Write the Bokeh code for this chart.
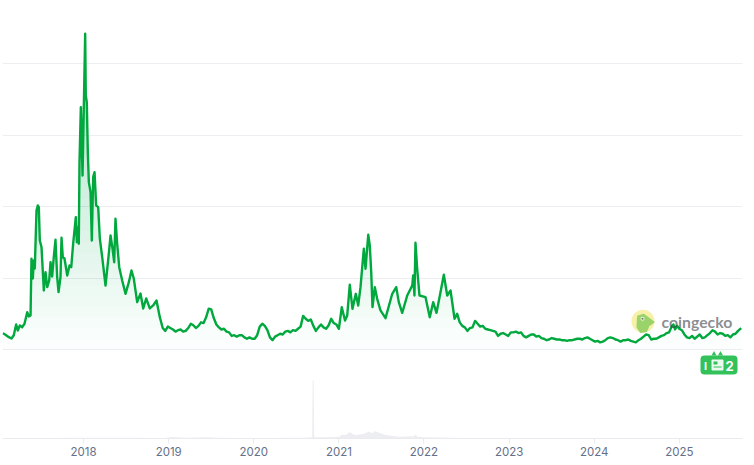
import numpy as np
from bokeh.plotting import figure
from bokeh.models import FixedTicker, Label, BoxAnnotation, Range1d
from bokeh.embed import file_html
from bokeh.resources import INLINE

# ---- data ----
tick_years = [2018, 2019, 2020, 2021, 2022, 2023, 2024, 2025]
tick_labels = ["2018", "2019", "2020", "2021", "2022", "2023", "2024", "2025"]
grid_levels = [0, 1, 2, 3, 4]

years = [2017.051,2017.083,2017.122,2017.153,2017.180,2017.208,2017.227,2017.251,2017.279,2017.306,
2017.338,2017.357,2017.377,2017.388,2017.404,2017.415,2017.427,2017.447,2017.462,2017.474,
2017.486,2017.506,2017.533,2017.553,2017.573,2017.596,2017.612,2017.631,2017.650,2017.670,
2017.690,2017.706,2017.729,2017.741,2017.756,2017.776,2017.808,2017.835,2017.855,2017.878,
2017.909,2017.921,2017.937,2017.944,2017.952,2017.968,2017.988,2017.996,2018.019,2018.026,
2018.038,2018.050,2018.062,2018.082,2018.097,2018.113,2018.129,2018.148,2018.172,2018.191,
2018.219,2018.258,2018.297,2018.317,2018.340,2018.360,2018.375,2018.395,2018.419,2018.454,
2018.493,2018.532,2018.563,2018.590,2018.630,2018.669,2018.701,2018.736,2018.778,2018.818,
2018.857,2018.896,
2018.93,2018.96,2018.99,2019.02,2019.05,2019.08,2019.11,2019.14,2019.17,2019.20,2019.23,2019.26,2019.29,2019.32,
2019.35,2019.38,2019.41,2019.44,2019.47,2019.50,2019.53,2019.56,2019.59,2019.62,2019.65,2019.68,2019.71,2019.74,
2019.77,2019.80,2019.83,2019.86,2019.89,2019.92,2019.95,2019.98,2020.01,2020.04,2020.07,2020.10,2020.13,2020.16,
2020.19,2020.22,2020.25,2020.28,2020.31,2020.34,2020.37,2020.40,2020.43,2020.46,2020.49,2020.52,2020.55,2020.58,
2020.61,2020.64,2020.67,2020.70,2020.73,2020.76,2020.79,2020.82,2020.85,2020.88,2020.91,2020.94,2020.97,2021.000,
2021.034,2021.072,2021.098,
2021.128,2021.160,2021.199,2021.227,2021.254,2021.293,2021.313,2021.345,2021.363,2021.380,
2021.395,2021.422,2021.450,2021.489,2021.548,2021.627,2021.674,2021.704,2021.744,2021.803,
2021.862,2021.873,2021.888,2021.900,2021.920,2021.947,2022.018,2022.068,2022.108,2022.147,
2022.194,2022.233,2022.273,2022.312,2022.359,2022.390,
2022.42,2022.45,2022.48,2022.51,2022.54,2022.57,2022.60,2022.63,2022.66,2022.69,2022.72,2022.75,2022.78,2022.81,
2022.84,2022.87,2022.90,2022.93,2022.96,2022.99,2023.02,2023.05,2023.08,2023.11,2023.14,2023.17,2023.20,2023.23,
2023.26,2023.29,2023.32,2023.35,2023.38,2023.41,2023.44,2023.47,2023.50,2023.53,2023.56,2023.59,2023.62,2023.65,
2023.68,2023.71,2023.74,2023.77,2023.80,2023.83,2023.86,2023.89,2023.92,2023.95,2023.98,2024.01,2024.04,2024.07,
2024.10,2024.13,2024.16,2024.19,2024.22,2024.25,2024.28,2024.31,2024.34,2024.37,2024.40,2024.43,2024.46,2024.49,
2024.52,2024.55,2024.58,2024.61,2024.64,2024.67,2024.70,2024.73,2024.76,2024.79,2024.82,2024.85,2024.88,2024.91,
2024.93,2024.95,2024.975,2025.00,2025.03,2025.06,2025.09,2025.12,2025.15,2025.18,2025.21,2025.24,2025.27,2025.30,
2025.33,2025.36,2025.39,2025.42,2025.45,2025.48,2025.51,2025.54,2025.57,2025.60,2025.63,2025.66,2025.69,2025.727]

prices = [.228,.206,.172,.154,.200,.350,.266,.336,.312,.360,
.522,.462,.476,1.269,.993,1.245,1.133,1.945,2.015,1.991,
1.525,1.431,.825,1.081,.872,.965,1.221,1.021,1.291,1.535,
1.011,.802,1.011,1.563,1.291,1.273,1.035,1.175,1.151,1.483,
1.851,1.501,1.711,1.479,2.602,3.390,2.434,2.952,4.417,3.553,
3.460,2.760,2.341,2.201,1.525,2.410,2.480,2.015,1.991,1.553,
1.291,.895,1.343,1.595,1.413,1.221,1.829,1.479,1.151,.965,
.779,.942,1.105,.993,.662,.783,.574,.713,.574,.616,
.685,.452,
.30,.26,.32,.30,.28,.25,.27,.28,.25,.26,.30,.36,.34,.30,
.33,.38,.37,.45,.57,.56,.44,.35,.31,.28,.29,.25,.24,.19,
.20,.18,.20,.20,.17,.15,.17,.15,.15,.20,.32,.36,.33,.27,
.17,.13,.18,.20,.22,.21,.25,.26,.24,.27,.26,.29,.32,.47,
.43,.40,.42,.33,.26,.31,.35,.31,.29,.34,.43,.37,.35,.29,
.592,.406,.476,
.905,.569,.779,.616,.872,1.409,1.129,1.605,1.455,1.081,
.592,.872,.709,.546,.438,.779,.872,.662,.513,.755,
.895,1.035,.755,1.493,1.129,.755,.732,.452,.662,.513,
.802,1.045,.755,.825,.430,.499,
.38,.33,.31,.26,.30,.31,.40,.36,.32,.33,.29,.28,.27,.26,
.25,.19,.22,.23,.21,.19,.24,.24,.25,.23,.24,.19,.17,.19,
.21,.21,.18,.19,.16,.15,.13,.14,.16,.15,.14,.14,.13,.13,
.12,.13,.13,.14,.15,.15,.14,.16,.17,.15,.13,.11,.12,.10,
.11,.13,.16,.17,.16,.14,.13,.11,.13,.13,.14,.12,.11,.10,
.13,.15,.18,.21,.20,.14,.15,.15,.17,.19,.20,.23,.24,.32,
.35,.28,.33,.29,.27,.21,.17,.16,.19,.15,.18,.21,.16,.17,
.20,.23,.27,.25,.21,.23,.22,.19,.20,.17,.21,.22,.26,.30]

volume_years = [2017.05,2017.5,2017.95,2018.05,2018.5,2018.95,2019.03,2019.2,2019.45,2019.55,2019.9,2020.2,
2020.45,2020.6,2020.686,2020.692,2020.704,2020.710,2020.8,2021.0,2021.04,2021.08,2021.13,2021.17,2021.2,2021.3,2021.345,
2021.39,2021.43,2021.47,2021.55,2021.7,2021.88,2021.9,2021.92,2022.0,2022.5,2023.5,2024.5,2025.0,2025.73]
volumes = [.005,.008,.012,.015,.012,.01,.025,.012,.02,.015,.01,.008,.015,.015,.02,1.0,1.0,.02,.02,.03,.07,.06,.11,.07,.06,.08,.12,
.09,.13,.1,.06,.03,.04,.07,.03,.02,.01,.006,.006,.01,.006]

# ---- styling helpers: page pixels to chart values, used only for the overlay decoration ----
def X(px):
    return 2017.024 + 0.01175 * px

def Y(py):
    return (349 - py) / 71.5

LINE = "#00a83e"
x_arr, y_arr = np.array(years), np.array(prices)

p = figure(width=754, height=465, output_backend="svg", toolbar_location=None,
           x_range=Range1d(X(2), X(742)), y_range=Range1d(Y(438), Y(0)),
           min_border_left=2, min_border_right=12, min_border_top=0, min_border_bottom=27,
           outline_line_color=None, background_fill_color="white",
           styles={"position": "absolute", "left": "0px", "top": "0px"})
p.extra_y_ranges = {"vol": Range1d(0, 438 / 58)}

p.yaxis.visible = False
p.xgrid.visible = False
p.ygrid.ticker = FixedTicker(ticks=grid_levels)
p.ygrid.grid_line_color = "#eceef1"
p.ygrid.grid_line_width = 1

ax = p.xaxis[0]
ax.ticker = FixedTicker(ticks=tick_years)
ax.major_label_overrides = dict(zip(tick_years, tick_labels))
ax.axis_line_color = "#e9ebef"
ax.major_tick_line_color = "#e9ebef"
ax.major_tick_in = 0
ax.major_tick_out = 5
ax.minor_tick_line_color = None
ax.major_label_standoff = 3
ax.major_label_text_font = "Inter"
ax.major_label_text_font_size = "11.5px"
ax.major_label_text_color = "#64708a"

# volume panel
p.varea(x=volume_years, y1=0, y2=volumes, y_range_name="vol", fill_color="#eceef2", fill_alpha=1)

# gradient below the line: stacked translucent layers, denser the higher the price
for level in np.arange(0, 4.5, 0.15):
    p.varea(x=x_arr, y1=np.minimum(y_arr, level), y2=y_arr, fill_color=LINE, fill_alpha=0.0115)

p.line(x_arr, y_arr, line_color=LINE, line_width=2.4, line_join="round")

# watermark
p.scatter([X(642.5)], [Y(320.7)], size=23, fill_color="#f7f0a8", line_color=None)
p.patch([X(v) for v in (637.3, 643.3, 653.3, 648.3, 646, 640, 636.7)],
        [Y(v) for v in (315.7, 314, 321.7, 325, 330.7, 331.7, 326.7)],
        fill_color="#9bd36b", line_color="#9bd36b", line_join="round", line_width=1.5)
p.scatter([X(642)], [Y(318.3)], size=4, fill_color="#eef2ea", line_color=None)
p.scatter([X(642)], [Y(318.3)], size=2, fill_color="#6d7268", line_color=None)
p.add_layout(Label(x=X(661), y=Y(320.5), text="coingecko", text_font="Lato", text_font_style="bold",
                   text_font_size="15.8px", text_color="#3b4048", text_alpha=0.6, text_baseline="middle"))

# event badge
BADGE = "#33c15a"
p.add_layout(BoxAnnotation(left=X(700), right=X(737), top=Y(355), bottom=Y(374), fill_color=BADGE,
                           fill_alpha=1, line_color=None, border_radius=4))
p.scatter([X(713.5), X(720)], [Y(353.5), Y(353.5)], marker="triangle", size=5, fill_color=BADGE, line_color=None)
p.add_layout(Label(x=X(705), y=Y(365), text="I", text_font="Inter", text_font_style="bold", text_font_size="11px",
                   text_color="white", text_align="center", text_baseline="middle"))
p.add_layout(Label(x=X(729), y=Y(365), text="2", text_font="Inter", text_font_style="bold", text_font_size="13px",
                   text_color="white", text_align="center", text_baseline="middle"))
p.add_layout(BoxAnnotation(left=X(711), right=X(723), top=Y(359), bottom=Y(370), fill_color="#eafaee",
                           fill_alpha=1, line_color=None, border_radius=1))
p.add_layout(BoxAnnotation(left=X(713), right=X(717), top=Y(361), bottom=Y(364), fill_color=BADGE,
                           fill_alpha=1, line_color=None))
p.add_layout(BoxAnnotation(left=X(713), right=X(721), top=Y(366), bottom=Y(367), fill_color=BADGE,
                           fill_alpha=1, line_color=None))

open("out.html", "w").write(file_html(p, INLINE))
